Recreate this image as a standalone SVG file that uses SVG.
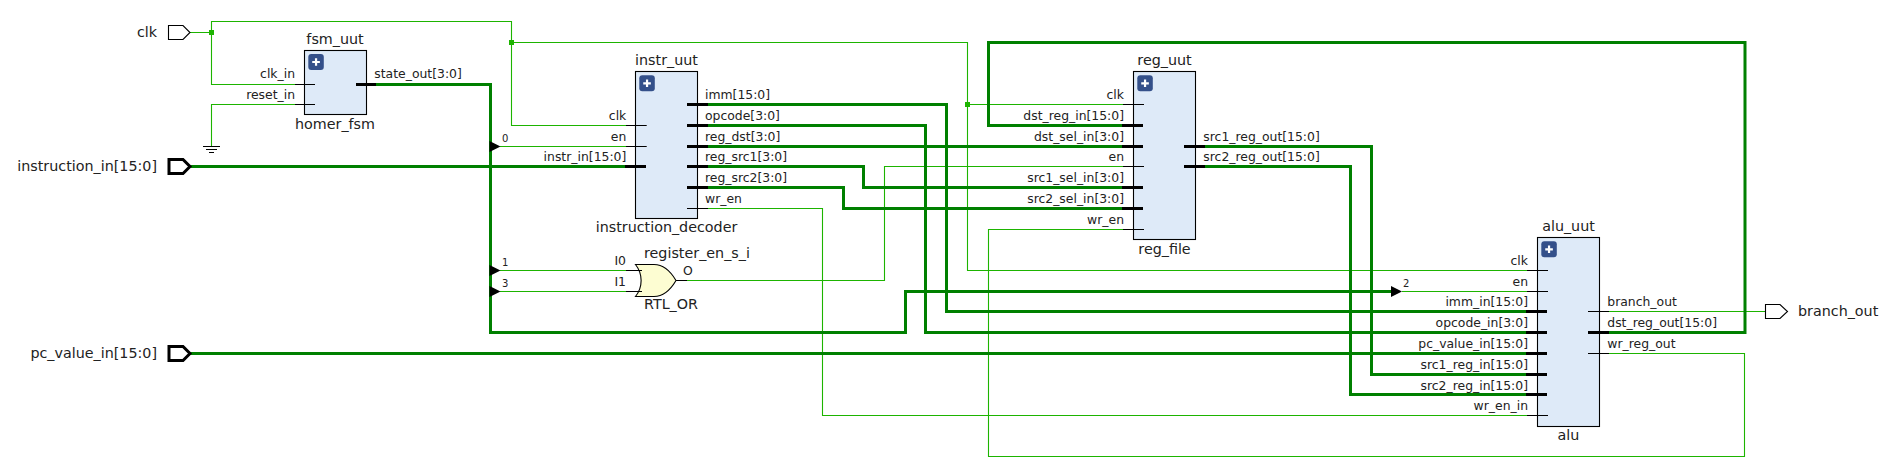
<svg xmlns="http://www.w3.org/2000/svg" width="1885" height="465" viewBox="0 0 1885 465">
<style>
text{font-family:"DejaVu Sans",sans-serif;fill:#222}
.p{font-size:12.4px}
.pe{font-size:12.4px;text-anchor:end}
.b{font-size:14.3px;text-anchor:middle}
.s{font-size:14.3px}
.n{font-size:10px}
.portname{font-size:14.3px;text-anchor:end}
.w{fill:none;stroke:#1db400;stroke-width:1.1}
.t{fill:none;stroke:#008000;stroke-width:3}
.k{stroke:#000;stroke-width:1.1;fill:none}
.kt{stroke:#000;stroke-width:3;fill:none}
.box{fill:#deeaf8;stroke:#000;stroke-width:1.1}
.ic{fill:#34508a}
.pl{stroke:#fff;stroke-width:2.2;fill:none}
.pin{fill:#fff;stroke:#000;stroke-width:1.1}
.pinb{fill:#fff;stroke:#000;stroke-width:3}
.j{fill:#1db400}
.ar{fill:#000}
</style>
<defs>
<g id="plus"><rect class="ic" width="15.5" height="16" rx="3"/><path class="pl" d="M7.75 4.2V11.8M3.95 8H11.55"/></g>
</defs>
<g id="connectors">
<path class="w" d="M190 32.5H211.5M211.5 84.5V21.5H511.5V125.5H626M211.5 32.5V84.5H295"/>
<path class="w" d="M295 104.5H211.5V146"/>
<path class="w" d="M511.5 42.5H967.5V270.5H1527M967.5 104.5H1123"/>
<path class="w" d="M500 146.5H626M500 270.5H626M500 291.5H626"/>
<path class="w" d="M687 280.5H884.5V166.5H1123"/>
<path class="w" d="M708 208.5H822.5V415.5H1527"/>
<path class="w" d="M1402 291.5H1527"/>
<path class="w" d="M1609 311.5H1765"/>
<path class="w" d="M1609 353.5H1744.5V456.5H988.5V229.5H1123"/>
<path class="t" d="M376 84.5H490.5V332.5H905.5V291.5H1391"/>
<path class="t" d="M190 166.5H625"/>
<path class="t" d="M190 353.5H1526"/>
<path class="t" d="M708 104.5H946.5V311.5H1526"/>
<path class="t" d="M708 125.5H925.5V332.5H1526"/>
<path class="t" d="M708 146.5H1122"/>
<path class="t" d="M708 166.5H863.5V187.5H1122"/>
<path class="t" d="M708 187.5H843.5V208.5H1122"/>
<path class="t" d="M1205 146.5H1371.5V374.5H1526"/>
<path class="t" d="M1205 166.5H1350.5V394.5H1526"/>
<path class="t" d="M1609 332.5H1745V42.5H988.5V125.5H1122"/>
<rect class="j" x="209" y="30" width="5" height="5"/>
<rect class="j" x="509" y="40" width="5" height="5"/>
<rect class="j" x="965" y="102" width="5" height="5"/>
<path class="ar" d="M489.5 141V152L500.5 146.5Z"/>
<path class="ar" d="M489.5 265V276L500.5 270.5Z"/>
<path class="ar" d="M489.5 286V297L500.5 291.5Z"/>
<path class="ar" d="M1391 286V297L1402 291.5Z"/>
<text class="n" x="502" y="142">0</text>
<text class="n" x="502" y="266">1</text>
<text class="n" x="502" y="287">3</text>
<text class="n" x="1403" y="287">2</text>
</g>
<g id="port_clk">
<path class="pin" d="M168.500 25.500H183L190 32.500L183 39.500H168.500Z"/>
<text class="portname" x="157" y="37">clk</text>
</g>
<g id="port_instruction_in">
<path class="pinb" d="M169 159.500H183L190 166.500L183 173.500H169Z"/>
<text class="portname" x="157" y="171">instruction_in[15:0]</text>
</g>
<g id="port_pc_value_in">
<path class="pinb" d="M169 346.500H183L190 353.500L183 360.500H169Z"/>
<text class="portname" x="157" y="358">pc_value_in[15:0]</text>
</g>
<g id="port_branch_out">
<path class="pin" d="M1765.500 304.500H1780L1787.500 311.500L1780 318.500H1765.500Z"/>
<text class="s" x="1798" y="316">branch_out</text>
</g>
<g id="ground">
<path class="k" d="M203 146.500H220M206 149.500H217M209 152.500H214"/>
</g>
<g id="fsm_uut">
<rect class="box" x="304.500" y="50.500" width="62" height="64"/>
<use href="#plus" x="308.300" y="54"/>
<path class="k" d="M295 84.500H315M295 104.500H315"/>
<path class="kt" d="M356 84.500H376"/>
<text class="b" x="335" y="44">fsm_uut</text>
<text class="b" x="335" y="129">homer_fsm</text>
<text class="pe" x="295" y="78">clk_in</text>
<text class="pe" x="295" y="99">reset_in</text>
<text class="p" x="374.300" y="78">state_out[3:0]</text>
</g>
<g id="instr_uut">
<rect class="box" x="635.500" y="71.500" width="62" height="147"/>
<use href="#plus" x="639.300" y="75.300"/>
<path class="k" d="M626 125.500H646.700M626 146.500H646.700M687 208.500H708"/>
<path class="kt" d="M625 166.500H646M687 104.500H708M687 125.500H708M687 146.500H708M687 166.500H708M687 187.500H708"/>
<text class="b" x="666.500" y="65">instr_uut</text>
<text class="b" x="666.500" y="232">instruction_decoder</text>
<text class="pe" x="626.300" y="120">clk</text>
<text class="pe" x="626.300" y="141">en</text>
<text class="pe" x="626.300" y="161">instr_in[15:0]</text>
<text class="p" x="705" y="99">imm[15:0]</text>
<text class="p" x="705" y="120">opcode[3:0]</text>
<text class="p" x="705" y="141">reg_dst[3:0]</text>
<text class="p" x="705" y="161">reg_src1[3:0]</text>
<text class="p" x="705" y="182">reg_src2[3:0]</text>
<text class="p" x="705" y="203">wr_en</text>
</g>
<g id="register_en_s_i">
<path d="M635.500 264.500H654C664 264.500 671 272 676 280.500C671 289 664 296.500 654 296.500H635.500C643 287 643 274 635.500 264.500Z" fill="#fdfdd2" stroke="#000" stroke-width="1.1"/>
<path class="k" d="M626 270.500H642M626 291.500H642M676 280.500H687"/>
<text class="s" x="644" y="258">register_en_s_i</text>
<text class="s" x="644" y="309">RTL_OR</text>
<text class="pe" x="626" y="265">I0</text>
<text class="pe" x="626" y="286">I1</text>
<text class="p" x="683" y="275">O</text>
</g>
<g id="reg_uut">
<rect class="box" x="1133.500" y="71.500" width="62" height="168"/>
<use href="#plus" x="1137.300" y="75.300"/>
<path class="k" d="M1123 104.500H1144M1123 166.500H1144M1123 229.500H1144"/>
<path class="kt" d="M1122 125.500H1143M1122 146.500H1143M1122 187.500H1143M1122 208.500H1143M1184 146.500H1205M1184 166.500H1205"/>
<text class="b" x="1164.500" y="65">reg_uut</text>
<text class="b" x="1164.500" y="254">reg_file</text>
<text class="pe" x="1124" y="99">clk</text>
<text class="pe" x="1124" y="120">dst_reg_in[15:0]</text>
<text class="pe" x="1124" y="141">dst_sel_in[3:0]</text>
<text class="pe" x="1124" y="161">en</text>
<text class="pe" x="1124" y="182">src1_sel_in[3:0]</text>
<text class="pe" x="1124" y="203">src2_sel_in[3:0]</text>
<text class="pe" x="1124" y="224">wr_en</text>
<text class="p" x="1203.300" y="141">src1_reg_out[15:0]</text>
<text class="p" x="1203.300" y="161">src2_reg_out[15:0]</text>
</g>
<g id="alu_uut">
<rect class="box" x="1537.500" y="237.500" width="62" height="189"/>
<use href="#plus" x="1541.300" y="241.300"/>
<path class="k" d="M1527 270.500H1548M1527 291.500H1548M1527 415.500H1548M1588 311.500H1609M1588 353.500H1609"/>
<path class="kt" d="M1526 311.500H1547M1526 332.500H1547M1526 353.500H1547M1526 374.500H1547M1526 394.500H1547M1588 332.500H1609"/>
<text class="b" x="1568.500" y="231">alu_uut</text>
<text class="b" x="1568.500" y="440">alu</text>
<text class="pe" x="1528" y="265">clk</text>
<text class="pe" x="1528" y="286">en</text>
<text class="pe" x="1528" y="306">imm_in[15:0]</text>
<text class="pe" x="1528" y="327">opcode_in[3:0]</text>
<text class="pe" x="1528" y="348">pc_value_in[15:0]</text>
<text class="pe" x="1528" y="369">src1_reg_in[15:0]</text>
<text class="pe" x="1528" y="390">src2_reg_in[15:0]</text>
<text class="pe" x="1528" y="410">wr_en_in</text>
<text class="p" x="1607.300" y="306">branch_out</text>
<text class="p" x="1607.300" y="327">dst_reg_out[15:0]</text>
<text class="p" x="1607.300" y="348">wr_reg_out</text>
</g>
</svg>
